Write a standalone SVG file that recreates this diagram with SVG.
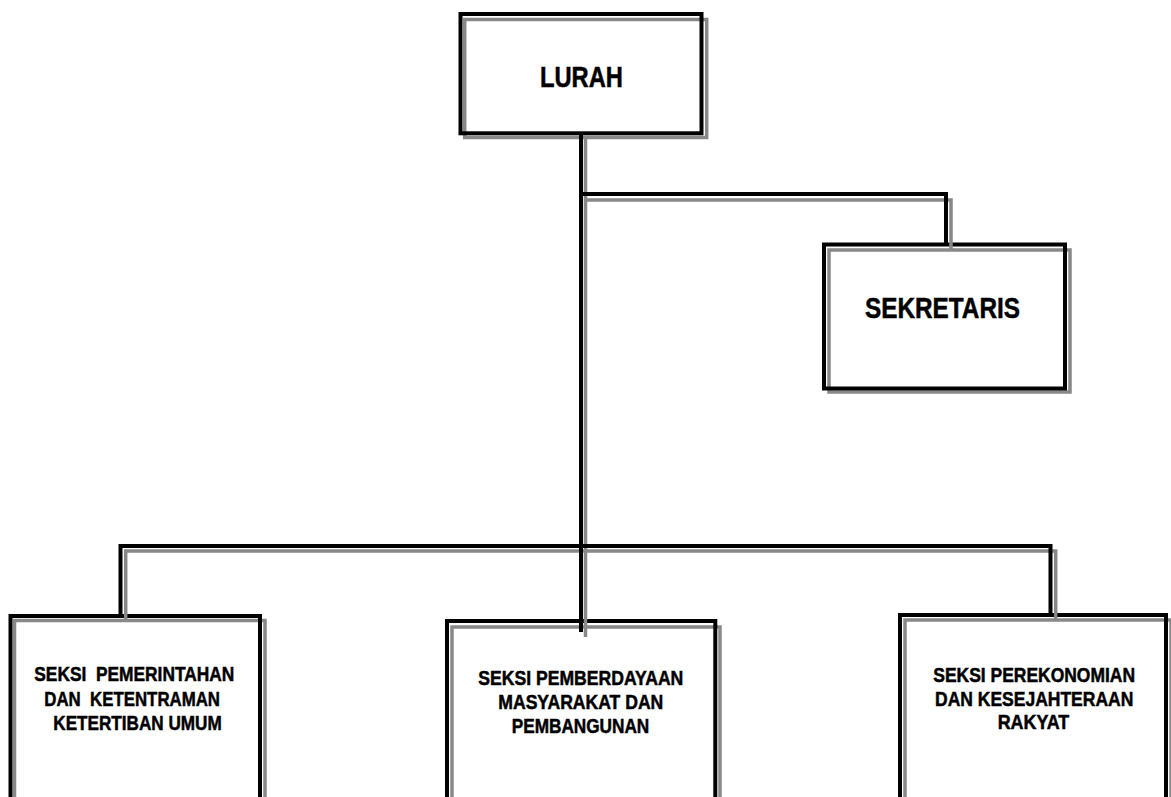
<svg xmlns="http://www.w3.org/2000/svg" width="1171" height="797" viewBox="0 0 1171 797">
<style>
.sh{fill:none;stroke:#888888;stroke-width:3.5}
.bk{fill:none;stroke:#000000;stroke-width:4}
.t{font-family:"Liberation Sans",Arial,sans-serif;font-weight:bold;fill:#000000;stroke:#000000;stroke-width:0.5;white-space:pre}
.big{font-size:29px}
.sm{font-size:20px}
</style>
<rect width="1171" height="797" fill="#ffffff"/>
<g id="lurah">
<rect class="sh" x="464.7" y="19.5" width="242" height="118"/>
<rect class="bk" x="460.5" y="14" width="241" height="119.3"/>
<text class="t big" x="540" y="87.3" textLength="83" lengthAdjust="spacingAndGlyphs">LURAH</text>
</g>
<g id="sekretaris">
<rect class="sh" x="829" y="250" width="241" height="142"/>
<rect class="bk" x="824" y="244.5" width="241" height="144"/>
<text class="t big" x="865" y="318.3" textLength="155" lengthAdjust="spacingAndGlyphs">SEKRETARIS</text>
</g>
<g id="seksi-pemerintahan">
<rect class="sh" x="14.5" y="620.5" width="250.5" height="200"/>
<rect class="bk" x="10.5" y="616" width="249.5" height="200"/>
<text class="t sm" x="34.3" y="681" textLength="200" lengthAdjust="spacingAndGlyphs" xml:space="preserve">SEKSI  PEMERINTAHAN</text>
<text class="t sm" x="44.3" y="705.7" textLength="175.7" lengthAdjust="spacingAndGlyphs" xml:space="preserve">DAN  KETENTRAMAN</text>
<text class="t sm" x="53.3" y="730" textLength="168.4" lengthAdjust="spacingAndGlyphs">KETERTIBAN UMUM</text>
</g>
<g id="seksi-pemberdayaan">
<rect class="sh" x="452" y="627" width="268" height="200"/>
<rect class="bk" x="447" y="621" width="268.3" height="200"/>
<text class="t sm" x="478.3" y="685" textLength="205" lengthAdjust="spacingAndGlyphs">SEKSI PEMBERDAYAAN</text>
<text class="t sm" x="498.3" y="709.3" textLength="165" lengthAdjust="spacingAndGlyphs">MASYARAKAT DAN</text>
<text class="t sm" x="511.7" y="733.3" textLength="137.6" lengthAdjust="spacingAndGlyphs">PEMBANGUNAN</text>
</g>
<g id="seksi-perekonomian">
<rect class="sh" x="905" y="620" width="266" height="200"/>
<rect class="bk" x="900" y="615" width="266" height="200"/>
<text class="t sm" x="933.3" y="681.7" textLength="201.7" lengthAdjust="spacingAndGlyphs">SEKSI PEREKONOMIAN</text>
<text class="t sm" x="935" y="705.7" textLength="198.3" lengthAdjust="spacingAndGlyphs">DAN KESEJAHTERAAN</text>
<text class="t sm" x="997.7" y="729" textLength="71.6" lengthAdjust="spacingAndGlyphs">RAKYAT</text>
</g>
<g id="connectors">
<path class="sh" d="M585.5,138 V637"/>
<path class="sh" d="M585.5,200 H951 V250"/>
<path class="sh" d="M125.7,620 V551 H1055.7 V620"/>
<path class="bk" d="M581,133 V632"/>
<path class="bk" d="M581,194 H946 V244"/>
<path class="bk" d="M120.5,616 V546 H1050.5 V615"/>
</g>
</svg>
